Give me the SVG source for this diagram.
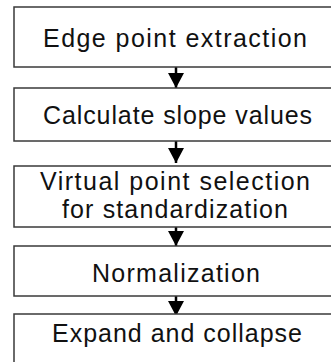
<svg xmlns="http://www.w3.org/2000/svg" width="331" height="362" viewBox="0 0 331 362">
<defs>
<marker id="ah" markerUnits="userSpaceOnUse" markerWidth="16" markerHeight="16" refX="15" refY="8" orient="auto" viewBox="0 0 16 16">
<path d="M0,0 L15,8 L0,16 Z" fill="#000"/>
</marker>
<style>
.box{fill:#fff;stroke:#3a3a3a;stroke-width:1.5}
.t{font-family:"Liberation Sans","Noto Sans",sans-serif;font-size:25px;fill:#111;text-anchor:middle}
.c{stroke:#000;stroke-width:2.5;fill:none;marker-end:url(#ah)}
</style>
</defs>
<rect width="331" height="362" fill="#fff"/>
<g id="connectors">
<line class="c" x1="176" y1="67" x2="176" y2="88"/>
<line class="c" x1="176" y1="141" x2="176" y2="163"/>
<line class="c" x1="176" y1="227" x2="176" y2="246"/>
<line class="c" x1="176" y1="296" x2="176" y2="316"/>
</g>
<g id="n1">
<rect class="box" x="14" y="7" width="324" height="60"/>
<text class="t" x="175" y="47" textLength="264" lengthAdjust="spacing">Edge point extraction</text>
</g>
<g id="n2">
<rect class="box" x="14" y="88" width="324" height="53"/>
<text class="t" x="177.5" y="124" textLength="269" lengthAdjust="spacing">Calculate slope values</text>
</g>
<g id="n3">
<rect class="box" x="14" y="166" width="324" height="61"/>
<text class="t" x="175" y="190" textLength="270" lengthAdjust="spacing">Virtual point selection</text>
<text class="t" x="175" y="218" textLength="226" lengthAdjust="spacing">for standardization</text>
</g>
<g id="n4">
<rect class="box" x="14" y="246" width="324" height="50"/>
<text class="t" x="176" y="281.5" textLength="168" lengthAdjust="spacing">Normalization</text>
</g>
<g id="n5">
<rect class="box" x="14" y="314" width="324" height="60"/>
<text class="t" x="177" y="341.5" textLength="250" lengthAdjust="spacing">Expand and collapse</text>
</g>
</svg>
